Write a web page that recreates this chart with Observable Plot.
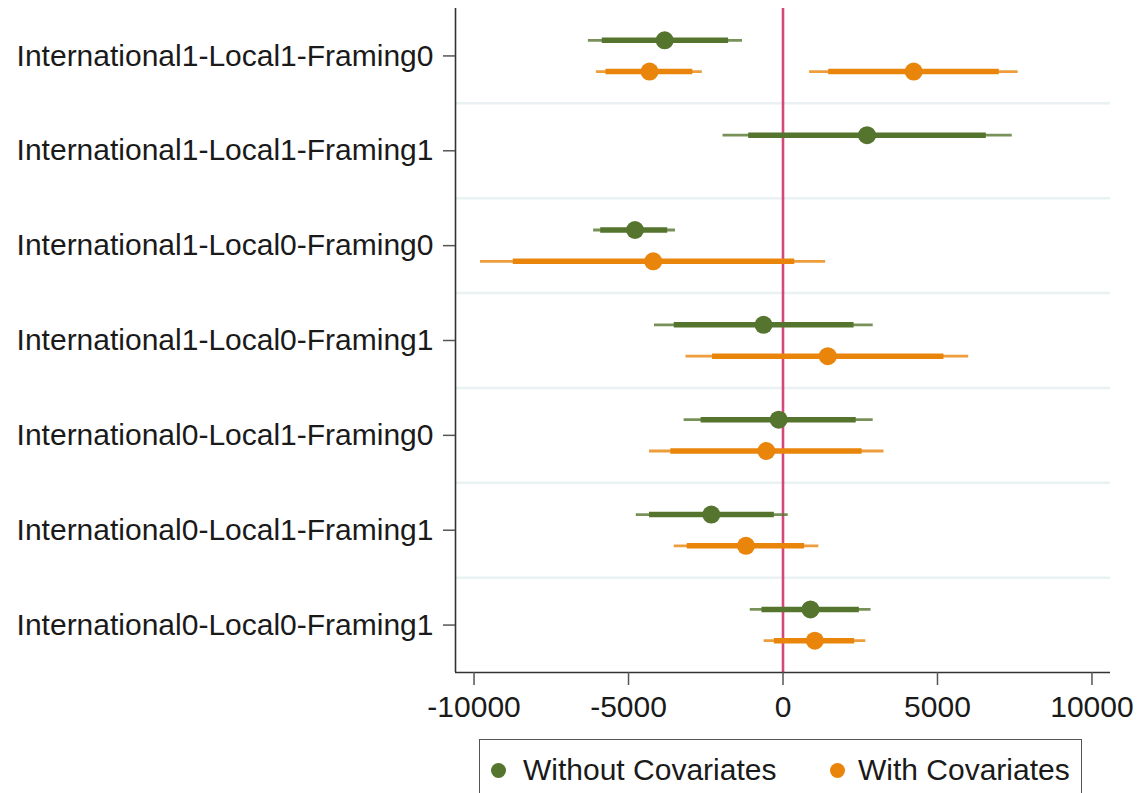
<!DOCTYPE html>
<html>
<head>
<meta charset="utf-8">
<script src="https://cdn.jsdelivr.net/npm/d3@7"></script>
<script src="https://cdn.jsdelivr.net/npm/@observablehq/plot@0.6"></script>
<style>
  html, body { margin: 0; padding: 0; background: #fff; }
  #chart svg { display: block; }
  .legend {
    position: relative;
    margin-left: 479px;
    margin-top: 9px;
    width: 603px;
    height: 62px;
    border: 1.5px solid #555;
    box-sizing: border-box;
    font-family: "Liberation Sans", Arial, sans-serif;
    font-size: 30px;
    color: #1a1a1a;
  }
  .legend .dot { position: absolute; top: 23px; width: 15px; height: 15px; border-radius: 50%; }
  .legend .lab { position: absolute; top: 13px; line-height: 34px; white-space: nowrap; }
</style>
</head>
<body>
<div id="chart"></div>
<script>
// ---- data ----
const categories = [
  "International1-Local1-Framing0",
  "International1-Local1-Framing1",
  "International1-Local0-Framing0",
  "International1-Local0-Framing1",
  "International0-Local1-Framing0",
  "International0-Local1-Framing1",
  "International0-Local0-Framing1"
];
const seriesNames = ["Without Covariates", "With Covariates"];
const seriesColors = ["#55752f", "#e8850a"];

// Without Covariates
const withoutRow  = [0, 1, 2, 3, 4, 5, 6];
const withoutEst  = [-3830, 2720, -4790, -630, -140, -2320, 890];
const withoutLo95 = [-6300, -1940, -6130, -4160, -3200, -4750, -1060];
const withoutHi95 = [-1310, 7420, -3480, 2920, 2920, 170, 2850];
const withoutLo90 = [-5850, -1110, -5900, -3520, -2650, -4320, -680];
const withoutHi90 = [-1760, 6580, -3730, 2300, 2370, -280, 2470];

// With Covariates
const withRow  = [0, 0, 2, 3, 4, 5, 6];
const withEst  = [-4320, 4230, -4200, 1450, -540, -1200, 1030];
const withLo95 = [-6040, 860, -9790, -3140, -4320, -3520, -610];
const withHi95 = [-2610, 7610, 1380, 6010, 3270, 1160, 2680];
const withLo90 = [-5730, 1480, -8730, -2280, -3630, -3100, -280];
const withHi90 = [-2920, 7000, 380, 5210, 2560, 700, 2320];

const xTicks = [-10000, -5000, 0, 5000, 10000];
const xDomain = [-10600, 10600];

// ---- build tables ----
const offset = 0.165;
function table(rows, est, lo95, hi95, lo90, hi90, s, off) {
  return rows.map((r, i) => ({
    series: seriesNames[s], row: r + off,
    est: est[i], lo95: lo95[i], hi95: hi95[i], lo90: lo90[i], hi90: hi90[i]
  }));
}
const without = table(withoutRow, withoutEst, withoutLo95, withoutHi95, withoutLo90, withoutHi90, 0, -offset);
const withC   = table(withRow, withEst, withLo95, withHi95, withLo90, withHi90, 1, offset);
const yDomain = [categories.length - 0.5, -0.5];
const separators = categories.slice(1).map((_, i) => i + 0.5);

const font = '"Liberation Sans", Arial, sans-serif';

function seriesMarks(data, color) {
  return [
    Plot.ruleY(data, {y: "row", x1: "lo95", x2: "hi95", stroke: color, strokeWidth: 2.8, strokeOpacity: 0.8}),
    Plot.ruleY(data, {y: "row", x1: "lo90", x2: "hi90", stroke: color, strokeWidth: 5.5}),
    Plot.dot(data, {y: "row", x: "est", r: 9, fill: color, stroke: null})
  ];
}

const chart = Plot.plot({
  width: 1140,
  height: 730,
  marginLeft: 455,
  marginRight: 30,
  marginTop: 8,
  marginBottom: 58,
  style: {fontFamily: font, fontSize: "30px", color: "#1a1a1a", background: "#fff"},
  x: {domain: xDomain, label: null},
  y: {domain: yDomain, label: null},
  marks: [
    Plot.ruleY(separators, {stroke: "#e9f1f3", strokeWidth: 2.5}),
    Plot.ruleX([0], {stroke: "#d4497a", strokeWidth: 2.6}),
    ...seriesMarks(without, seriesColors[0]),
    ...seriesMarks(withC, seriesColors[1]),
    Plot.ruleX([xDomain[0]], {stroke: "#333", strokeWidth: 1.6}),
    Plot.ruleY([yDomain[0]], {stroke: "#333", strokeWidth: 1.6}),
    Plot.axisX({ticks: xTicks, tickFormat: d => String(d), tickSize: 13, tickPadding: 10,
                fontSize: 30, stroke: "#555", strokeWidth: 1.5, label: null}),
    Plot.axisY({ticks: categories.map((_, i) => i), tickFormat: i => categories[i],
                tickSize: 12, tickPadding: 10, fontSize: 30, stroke: "#555", strokeWidth: 1.5, label: null})
  ]
});
document.getElementById("chart").appendChild(chart);

// ---- legend ----
const legend = document.createElement("div");
legend.className = "legend";
const legendPos = [{dot: 11, lab: 43}, {dot: 350, lab: 378}];
seriesNames.forEach((name, i) => {
  const d = document.createElement("span");
  d.className = "dot";
  d.style.left = legendPos[i].dot + "px";
  d.style.background = seriesColors[i];
  const t = document.createElement("span");
  t.className = "lab";
  t.style.left = legendPos[i].lab + "px";
  t.textContent = name;
  legend.appendChild(d);
  legend.appendChild(t);
});
document.body.appendChild(legend);
</script>
</body>
</html>
